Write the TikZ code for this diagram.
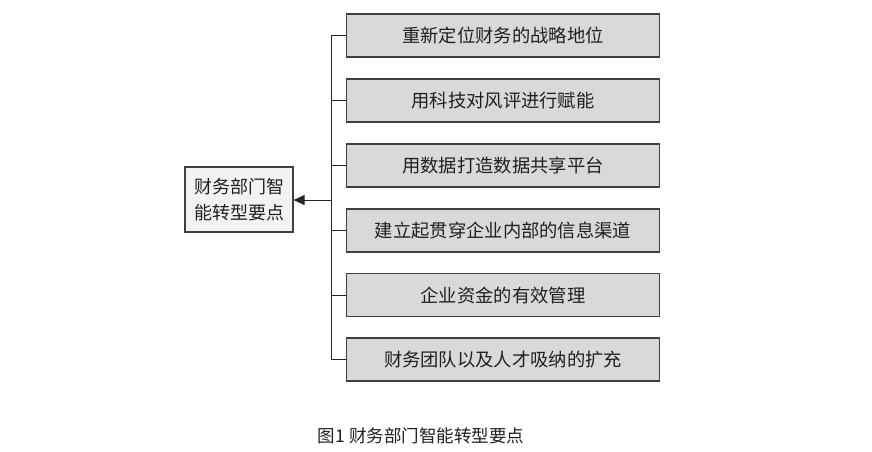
\documentclass[tikz,border=0pt]{standalone}
\usepackage{fontspec}
\newfontfamily\cjk{Noto Sans CJK SC}
\usetikzlibrary{arrows.meta}
\definecolor{boxline}{HTML}{404040}
\definecolor{itemfill}{HTML}{D9D9D9}
\definecolor{mainfill}{HTML}{F2F2F2}
\begin{document}
\begin{tikzpicture}[x=1pt,y=-1pt,
  itembox/.style={draw=boxline,line width=1.2pt,fill=itemfill,minimum width=313pt,minimum height=43pt,inner sep=0pt,font=\cjk\fontsize{18.3}{20}\selectfont,text=black!88},
  mainbox/.style={draw=boxline,line width=1.2pt,fill=mainfill,minimum width=108pt,minimum height=65pt,inner sep=2pt,align=center,font=\cjk\fontsize{18}{26}\selectfont,text=black!88},
  link/.style={draw=black!85,line width=1pt}]
\useasboundingbox (0,0) rectangle (872,451);
\node[mainbox] (m) at (239,199.5) {财务部门智\\能转型要点};
\node[itembox] (i1) at (503,35.5) {重新定位财务的战略地位};
\node[itembox] (i2) at (503,100.5) {用科技对风评进行赋能};
\node[itembox] (i3) at (503,165.5) {用数据打造数据共享平台};
\node[itembox] (i4) at (503,230.5) {建立起贯穿企业内部的信息渠道};
\node[itembox] (i5) at (503,295) {企业资金的有效管理};
\node[itembox] (i6) at (503,359.5) {财务团队以及人才吸纳的扩充};
\coordinate (bt) at (331,35.5);
\coordinate (bb) at (331,359.5);
\coordinate (bm) at (331,200);
\draw[link] (i1.west) -- (bt) -- (bb) -- (i6.west);
\foreach \i in {2,3,4,5} \draw[link] (i\i.west) -- (i\i.west -| bt);
\draw[link,-{Triangle[length=11pt,width=10pt]}] (bm) -- (m.east |- bm);
\node[font=\cjk\fontsize{17.5}{18}\selectfont,text=black!88] (cap) at (421,436) {图1\hspace{4pt}财务部门智能转型要点};
\end{tikzpicture}
\end{document}
